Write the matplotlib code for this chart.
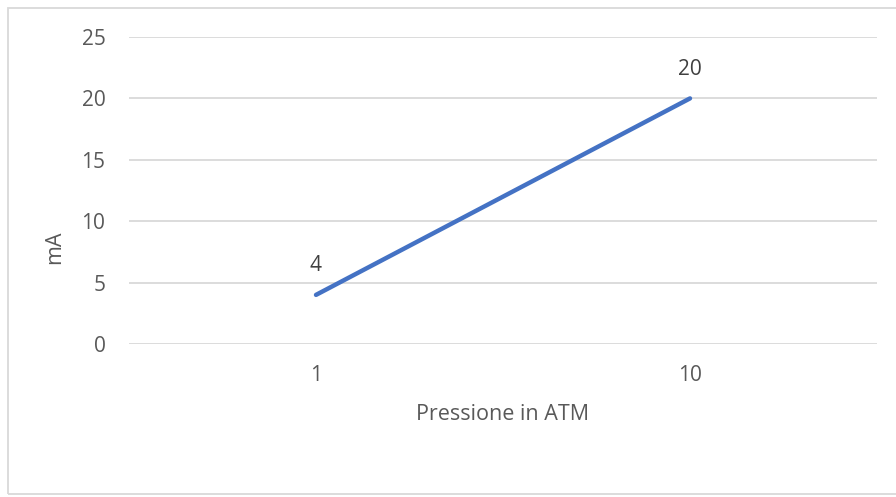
import matplotlib.pyplot as plt
from matplotlib.patches import Rectangle

categories = ["1", "10"]
values = [4, 20]
y_ticks = [0, 5, 10, 15, 20, 25]

text_color = "#595959"
grid_color = "#D9D9D9"
line_color = "#4472C4"

plt.rcParams["font.family"] = ["Open Sans", "DejaVu Sans"]
fs = 15
fs_title = 15.5

fig = plt.figure(figsize=(8.96, 4.97), dpi=100)
ax = fig.add_axes([129 / 896, 1 - 344 / 497, 748 / 896, 307 / 497])

x = list(range(len(categories)))
ax.plot(x, values, color=line_color, linewidth=3.2, solid_capstyle="round", zorder=3)
for xi, v in zip(x, values):
    ax.annotate(str(v), (xi, v), xytext=(0, 21), textcoords="offset points",
                ha="center", va="center", fontsize=fs, color="#404040")

ax.set_xlim(-0.5, len(categories) - 0.5)
ax.set_ylim(0, 25)
ax.set_yticks(y_ticks)
ax.set_xticks(x)
ax.set_xticklabels(categories)
ax.grid(axis="y", color=grid_color, linewidth=1.3)
ax.set_axisbelow(True)
for s in ax.spines.values():
    s.set_visible(False)
ax.tick_params(length=0, labelsize=fs, labelcolor=text_color)
ax.tick_params(axis="y", pad=17)
ax.tick_params(axis="x", pad=15)
ax.set_ylabel("mA", fontsize=fs_title, color=text_color, va="center")
ax.yaxis.set_label_coords(-0.100, 0.316)
ax.set_xlabel("Pressione in ATM", fontsize=fs_title, color=text_color, labelpad=13)

# chart area border
fig.patches.append(Rectangle((8 / 896, 3 / 497), 895 / 896, 486 / 497,
                             transform=fig.transFigure, fill=False,
                             edgecolor=grid_color, linewidth=1.3))

fig.savefig("out.png", dpi=100)
